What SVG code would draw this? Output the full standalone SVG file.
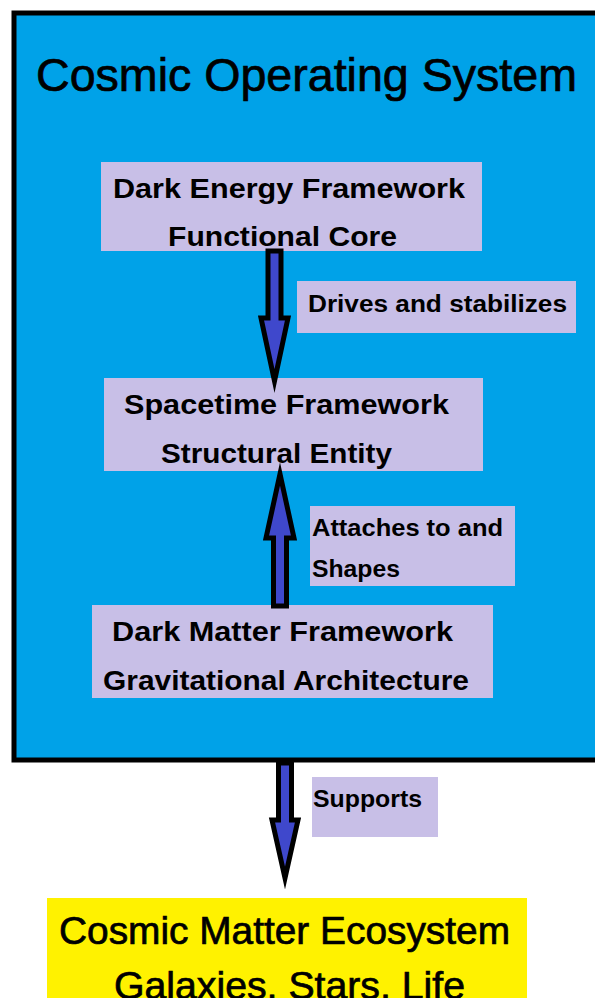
<svg xmlns="http://www.w3.org/2000/svg" width="595" height="998" viewBox="0 0 595 998">
  <style>
    text { font-family: "Liberation Sans", Arial, sans-serif; fill: #000; }
    .title { font-size: 46px; stroke: #000; stroke-width: 0.7; }
    .node { font-size: 27px; font-weight: bold; }
    .lbl { font-size: 23px; font-weight: bold; }
    .eco { font-size: 39px; stroke: #000; stroke-width: 0.7; }
    .box { fill: #C8BFE7; }
    .arrow { fill: #3F48CC; stroke: #000; stroke-width: 5; stroke-linejoin: miter; stroke-miterlimit: 10; }
  </style>
  <rect width="595" height="998" fill="#FFFFFF"/>
  <g id="cosmic-operating-system">
    <rect x="14" y="13" width="620" height="747" fill="#00A2E8" stroke="#000" stroke-width="5"/>
    <text class="title" x="36" y="91" textLength="541" lengthAdjust="spacingAndGlyphs">Cosmic Operating System</text>
  </g>
  <g id="dark-energy">
    <rect class="box" x="101" y="162" width="381" height="89"/>
    <text class="node" x="113" y="198" textLength="352" lengthAdjust="spacingAndGlyphs">Dark Energy Framework</text>
    <text class="node" x="168" y="246" textLength="229" lengthAdjust="spacingAndGlyphs">Functional Core</text>
  </g>
  <g id="spacetime">
    <rect class="box" x="104" y="378" width="379" height="93"/>
    <text class="node" x="124" y="414" textLength="325" lengthAdjust="spacingAndGlyphs">Spacetime Framework</text>
    <text class="node" x="161" y="463" textLength="231" lengthAdjust="spacingAndGlyphs">Structural Entity</text>
  </g>
  <g id="dark-matter">
    <rect class="box" x="92" y="605" width="401" height="93"/>
    <text class="node" x="112" y="641" textLength="341" lengthAdjust="spacingAndGlyphs">Dark Matter Framework</text>
    <text class="node" x="103" y="690" textLength="366" lengthAdjust="spacingAndGlyphs">Gravitational Architecture</text>
  </g>
  <g id="cosmic-matter-ecosystem">
    <rect x="47" y="898" width="480" height="110" fill="#FFF200"/>
    <text class="eco" x="59" y="944" textLength="451" lengthAdjust="spacingAndGlyphs">Cosmic Matter Ecosystem</text>
    <text class="eco" x="114" y="999" textLength="351" lengthAdjust="spacingAndGlyphs">Galaxies, Stars, Life</text>
  </g>
  <g id="connectors">
    <polygon class="arrow" points="268,251 281,251 281,318 288,318 274.5,381 261,318 268,318"/>
    <polygon class="arrow" points="273.5,606 286.5,606 286.5,538 294,538 280,474 266,538 273.5,538"/>
    <polygon class="arrow" points="278.5,763 291.5,763 291.5,820 298,820 285,878 272,820 278.5,820"/>
    <g id="label-drives">
      <rect class="box" x="297" y="281" width="279" height="52"/>
      <text class="lbl" x="308" y="312" textLength="259" lengthAdjust="spacingAndGlyphs">Drives and stabilizes</text>
    </g>
    <g id="label-attaches">
      <rect class="box" x="310" y="506" width="205" height="80"/>
      <text class="lbl" x="312" y="536" textLength="191" lengthAdjust="spacingAndGlyphs">Attaches to and</text>
      <text class="lbl" x="312" y="577" textLength="88" lengthAdjust="spacingAndGlyphs">Shapes</text>
    </g>
    <g id="label-supports">
      <rect class="box" x="312" y="777" width="126" height="60"/>
      <text class="lbl" x="313" y="807" textLength="109" lengthAdjust="spacingAndGlyphs">Supports</text>
    </g>
  </g>
</svg>
